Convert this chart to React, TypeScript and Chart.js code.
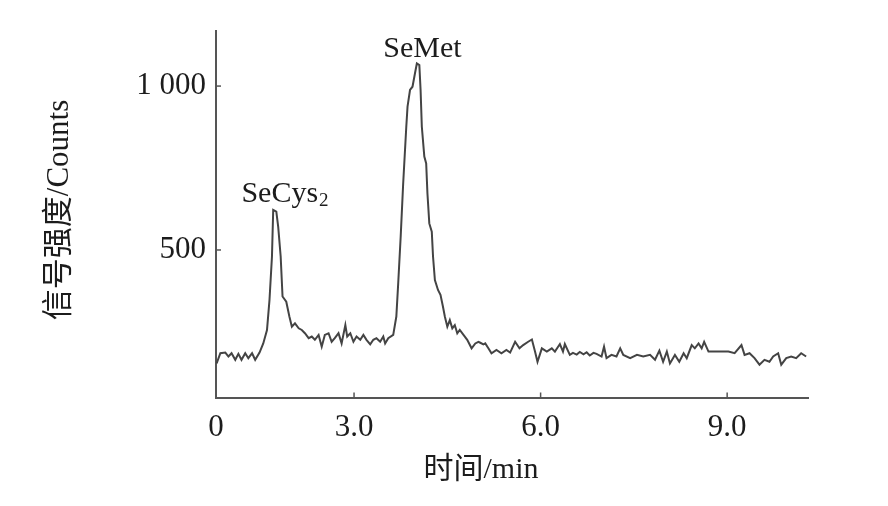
import React, { useEffect, useRef } from "react";
import { Chart, registerables } from "chart.js";

Chart.register(...registerables);

// Retention time (min) and signal intensity (counts)
const times = [
  0.79, 0.85, 0.93, 0.98, 1.03, 1.09, 1.14, 1.19, 1.25, 1.3, 1.36, 1.41, 1.48, 1.54, 1.6, 1.64, 1.68, 1.7, 1.75,
  1.78, 1.82, 1.85, 1.91, 1.96, 2.0, 2.05, 2.11, 2.16, 2.21, 2.27, 2.32, 2.37, 2.43, 2.48, 2.53, 2.59, 2.64, 2.69,
  2.75, 2.8, 2.86, 2.89, 2.94, 2.99, 3.04, 3.1, 3.15, 3.2, 3.26, 3.31, 3.36, 3.42, 3.47, 3.5, 3.55, 3.63, 3.68,
  3.71, 3.75, 3.79, 3.84, 3.86, 3.9, 3.94, 3.98, 4.01, 4.05, 4.07, 4.09, 4.13, 4.16, 4.18, 4.21, 4.25, 4.27, 4.3,
  4.35, 4.39, 4.43, 4.46, 4.5, 4.54, 4.58, 4.62, 4.66, 4.7, 4.76, 4.82, 4.89, 4.95, 5.0, 5.03, 5.08, 5.11, 5.16,
  5.21, 5.29, 5.37, 5.45, 5.51, 5.59, 5.66, 5.72, 5.8, 5.86, 5.91, 5.95, 6.02, 6.1, 6.18, 6.23, 6.31, 6.36, 6.39,
  6.47, 6.52, 6.58, 6.63, 6.69, 6.74, 6.79, 6.85, 6.9, 6.98, 7.02, 7.06, 7.14, 7.22, 7.28, 7.33, 7.44, 7.55, 7.65,
  7.76, 7.84, 7.91, 7.97, 8.03, 8.08, 8.16, 8.23, 8.3, 8.35, 8.43, 8.48, 8.54, 8.59, 8.63, 8.7, 8.8, 8.91, 9.02,
  9.12, 9.23, 9.28, 9.36, 9.44, 9.52, 9.6, 9.68, 9.74, 9.82, 9.87, 9.95, 10.03, 10.11, 10.19, 10.27,
];
const counts = [
  154, 185, 187, 175, 185, 165, 183, 165, 185, 170, 185, 165, 187, 215, 256, 347, 480, 622, 617,
  571, 480, 358, 342, 297, 266, 276, 261, 256, 246, 231, 236, 226, 241, 205, 241, 246, 220, 231,
  246, 215, 271, 236, 246, 220, 236, 226, 241, 226, 212, 226, 231, 220, 236, 215, 231, 241, 297,
  398, 541, 703, 876, 937, 988, 998, 1039, 1069, 1064, 988, 876, 785, 764, 673, 581, 556, 480, 408,
  378, 363, 327, 297, 266, 286, 261, 271, 246, 256, 241, 226, 200, 215, 220, 217, 212, 215, 200,
  185, 195, 185, 195, 187, 220, 200, 210, 220, 227, 190, 159, 200, 190, 200, 190, 213, 190, 213,
  180, 186, 181, 189, 182, 188, 178, 186, 183, 175, 205, 170, 180, 175, 200, 180, 170, 180, 175,
  180, 165, 193, 159, 190, 154, 180, 159, 185, 170, 210, 200, 215, 200, 220, 190, 190, 190, 190,
  185, 210, 180, 185, 170, 150, 165, 159, 175, 185, 150, 170, 175, 170, 185, 175,
];

const xTickValues = [3, 6, 9];
const xOriginLabel = "0";
const yTickValues = [500, 1000];
const yTickLabels = ["500", "1 000"];
const xAxisTitle = "时间/min";
const yAxisTitle = "信号强度/Counts";
const peakNames = ["SeCys", "SeMet"];
const peakSubs = ["2", ""];
const peakLabelX = [1.89, 4.1];
const peakLabelY = [647, 1090];

const X_MIN = 0.78;
const X_MAX = 10.3;
const Y_MIN = 50;
const Y_MAX = 1168;

const FONT = '"Liberation Serif", "Noto Sans CJK SC", serif';
const TEXT_COLOR = "#1c1c1c";
const AXIS_COLOR = "#555555";
const LINE_COLOR = "#444444";

const decorPlugin = {
  id: "decor",
  afterDraw(chart: any) {
    const { ctx, chartArea, scales } = chart;
    const xs = scales.x;
    const ys = scales.y;
    ctx.save();
    // inner tick marks
    ctx.strokeStyle = AXIS_COLOR;
    ctx.lineWidth = 1.5;
    xTickValues.forEach((v) => {
      const px = xs.getPixelForValue(v);
      ctx.beginPath();
      ctx.moveTo(px, chartArea.bottom);
      ctx.lineTo(px, chartArea.bottom - 5);
      ctx.stroke();
    });
    yTickValues.forEach((v) => {
      const py = ys.getPixelForValue(v);
      ctx.beginPath();
      ctx.moveTo(chartArea.left, py);
      ctx.lineTo(chartArea.left + 5, py);
      ctx.stroke();
    });
    // peak labels
    ctx.fillStyle = TEXT_COLOR;
    ctx.textBaseline = "alphabetic";
    ctx.textAlign = "left";
    peakNames.forEach((name, i) => {
      ctx.font = `30px ${FONT}`;
      const w1 = ctx.measureText(name).width;
      const sub = peakSubs[i];
      ctx.font = `19px ${FONT}`;
      const w2 = sub ? ctx.measureText(sub).width + 1 : 0;
      const cx = xs.getPixelForValue(peakLabelX[i]);
      const by = ys.getPixelForValue(peakLabelY[i]);
      const left = cx - (w1 + w2) / 2;
      ctx.font = `30px ${FONT}`;
      ctx.fillText(name, left, by);
      if (sub) {
        ctx.font = `19px ${FONT}`;
        ctx.fillText(sub, left + w1 + 1, by + 4);
      }
    });
    // axis titles
    ctx.font = `30px ${FONT}`;
    ctx.textAlign = "center";
    ctx.textBaseline = "middle";
    ctx.fillText(xAxisTitle, 481, 470);
    ctx.font = `31px ${FONT}`;
    ctx.translate(60, 210);
    ctx.rotate(-Math.PI / 2);
    ctx.fillText(yAxisTitle, 0, 0);
    ctx.restore();
  },
};

export default function App() {
  const canvasRef = useRef<HTMLCanvasElement | null>(null);

  useEffect(() => {
    if (!canvasRef.current) return;
    const data = times.map((t, i) => ({ x: t, y: counts[i] }));
    const chart = new Chart(canvasRef.current, {
      type: "line",
      data: {
        datasets: [
          {
            data,
            borderColor: LINE_COLOR,
            borderWidth: 2,
            pointRadius: 0,
            tension: 0,
            fill: false,
          },
        ],
      },
      options: {
        animation: false,
        responsive: true,
        maintainAspectRatio: false,
        layout: { padding: { top: 31, right: 80, left: 0, bottom: 0 } },
        plugins: { legend: { display: false }, tooltip: { enabled: false } },
        scales: {
          x: {
            type: "linear",
            min: X_MIN,
            max: X_MAX,
            grid: { display: false, drawTicks: false },
            border: { display: true, color: AXIS_COLOR, width: 2 },
            ticks: {
              color: TEXT_COLOR,
              font: { family: FONT, size: 31 },
              padding: 12,
              autoSkip: false,
              maxRotation: 0,
              callback: (v: any) => (Math.abs(Number(v) - X_MIN) < 1e-6 ? xOriginLabel : Number(v).toFixed(1)),
            },
            afterBuildTicks: (s: any) => {
              s.ticks = [X_MIN, ...xTickValues].map((v) => ({ value: v }));
            },
            afterFit: (s: any) => {
              s.height = 108.5;
            },
          },
          y: {
            type: "linear",
            min: Y_MIN,
            max: Y_MAX,
            grid: { display: false, drawTicks: false },
            border: { display: true, color: AXIS_COLOR, width: 2 },
            ticks: {
              color: TEXT_COLOR,
              font: { family: FONT, size: 31 },
              padding: 10,
              autoSkip: false,
              callback: (v: any) => {
                const idx = yTickValues.indexOf(Number(v));
                return idx >= 0 ? yTickLabels[idx] : "";
              },
            },
            afterBuildTicks: (s: any) => {
              s.ticks = yTickValues.map((v) => ({ value: v }));
            },
            afterFit: (s: any) => {
              s.width = 216;
            },
          },
        },
      },
      plugins: [decorPlugin],
    });
    return () => chart.destroy();
  }, []);

  return (
    <div style={{ position: "absolute", left: 0, top: 0, width: 888, height: 506, background: "#fff" }}>
      <canvas ref={canvasRef} />
    </div>
  );
}
